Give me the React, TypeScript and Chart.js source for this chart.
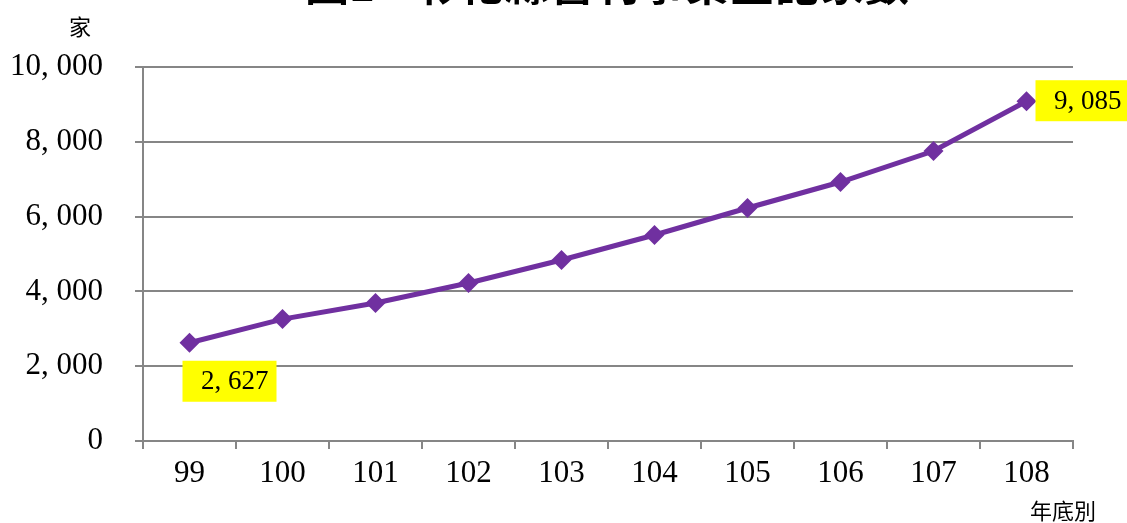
import React, { useEffect, useRef } from "react";
import { Chart, registerables } from "chart.js";

Chart.register(...registerables);

const years = ["99", "100", "101", "102", "103", "104", "105", "106", "107", "108"];
const counts = [2627, 3260, 3690, 4225, 4840, 5508, 6230, 6925, 7754, 9085];
const yTicks = [0, 2000, 4000, 6000, 8000, 10000];
const titlePrefix = "圖1";
const titleText = "彰化縣營利事業登記家數";
const yUnit = "家";
const xUnit = "年底別";

const fmt = (n: number) => n.toLocaleString("en-US").replace(/,/g, ", ");

const SERIF = "'Liberation Serif', 'DejaVu Serif', serif";
const CJK = "'Noto Sans CJK TC', 'Noto Sans CJK SC', sans-serif";

const overlay = {
  id: "overlay",
  afterDatasetsDraw(chart: any) {
    const ctx = chart.ctx;
    const meta = chart.getDatasetMeta(0);
    ctx.save();
    // title (cut off at the top)
    ctx.fillStyle = "#000";
    ctx.font = `bold 44px ${CJK}`;
    ctx.textBaseline = "alphabetic";
    ctx.textAlign = "left";
    ctx.fillText(titlePrefix, 305, 1);
    const chars = Array.from(titleText);
    chars.forEach((c, i) => ctx.fillText(c, 415 + i * 45, 1));

    // units
    ctx.font = `22px ${CJK}`;
    ctx.textAlign = "center";
    ctx.textBaseline = "middle";
    ctx.fillText(yUnit, 80, 27);
    ctx.fillText(xUnit, 1063, 511);

    // data labels (first and last)
    const idxs = [0, counts.length - 1];
    ctx.font = `27px ${SERIF}`;
    idxs.forEach((i) => {
      const p = meta.data[i];
      let bx, by;
      const bw = 94, bh = 41;
      if (i === 0) {
        bx = p.x - 7;
        by = p.y + 18;
      } else {
        bx = p.x + 9;
        by = p.y - 21;
      }
      ctx.fillStyle = "#FFFF00";
      ctx.fillRect(bx, by, bw, bh);
      ctx.fillStyle = "#000";
      ctx.textAlign = "right";
      ctx.textBaseline = "middle";
      ctx.fillText(fmt(counts[i]), bx + bw - 8, by + bh / 2 + 1);
    });
    ctx.restore();
  },
};

export default function App() {
  const ref = useRef<HTMLCanvasElement | null>(null);
  useEffect(() => {
    if (!ref.current) return;
    const chart = new Chart(ref.current, {
      type: "line",
      data: {
        labels: years,
        datasets: [
          {
            data: counts,
            borderColor: "#7030A0",
            backgroundColor: "#7030A0",
            borderWidth: 5,
            pointStyle: "rectRot",
            pointRadius: 10,
            pointHoverRadius: 10,
            pointBorderWidth: 0,
            tension: 0,
          },
        ],
      },
      options: {
        animation: false,
        responsive: false,
        maintainAspectRatio: false,
        layout: { padding: { top: 67, right: 54, left: 0, bottom: 0 } },
        plugins: { legend: { display: false }, tooltip: { enabled: false }, title: { display: false } },
        scales: {
          x: {
            type: "category",
            offset: true,
            grid: {
              offset: true,
              drawOnChartArea: false,
              drawTicks: true,
              tickLength: 8,
              color: "#868686",
              lineWidth: 2,
            },
            border: { display: true, color: "#868686", width: 2 },
            ticks: {
              color: "#000",
              font: { family: SERIF, size: 31 },
              padding: 6,
            },
            afterFit: (s: any) => {
              s.height = 523 - 441;
            },
          },
          y: {
            min: 0,
            max: 10000,
            afterBuildTicks: (s: any) => {
              s.ticks = yTicks.map((v) => ({ value: v }));
            },
            grid: {
              color: "#868686",
              lineWidth: 2,
              drawTicks: true,
              tickLength: 8,
            },
            border: { display: true, color: "#868686", width: 2 },
            ticks: {
              color: "#000",
              font: { family: SERIF, size: 31 },
              padding: 32,
              callback: (v: any) => fmt(Number(v)),
            },
            afterFit: (s: any) => {
              s.width = 143;
            },
          },
        },
      },
      plugins: [overlay],
    });
    return () => chart.destroy();
  }, []);
  return (
    <div style={{ position: "fixed", left: 0, top: 0, width: 1127, height: 523, background: "#fff" }}>
      <canvas ref={ref} width={1127} height={523} style={{ width: 1127, height: 523, display: "block" }} />
    </div>
  );
}
